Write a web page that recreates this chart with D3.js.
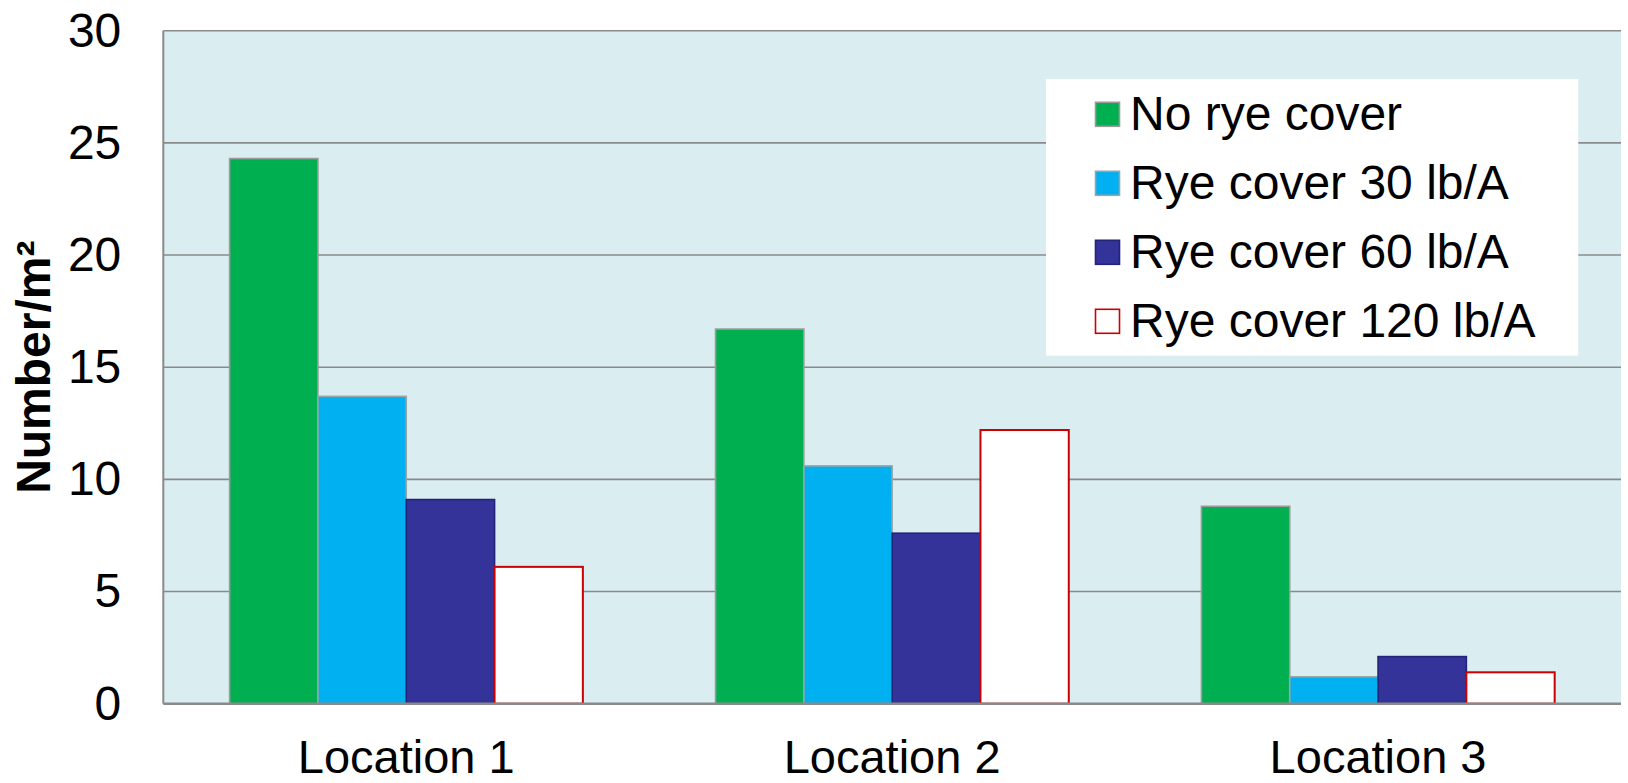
<!DOCTYPE html>
<html>
<head>
<meta charset="utf-8">
<script src="https://cdn.jsdelivr.net/npm/d3@7"></script>
<style>
  html, body { margin: 0; padding: 0; background: #ffffff; }
  svg { display: block; }
  text { font-family: "Liberation Sans", Arial, sans-serif; fill: #000; }
</style>
</head>
<body>
<svg id="chart" width="1628" height="783"></svg>
<script>
// ---- Data ----
const categories = ["Location 1", "Location 2", "Location 3"];
const seriesNames = ["No rye cover", "Rye cover 30 lb/A", "Rye cover 60 lb/A", "Rye cover 120 lb/A"];
const noRye      = [24.3, 16.7, 8.8];
const rye30      = [13.7, 10.6, 1.2];
const rye60      = [9.1, 7.6, 2.1];
const rye120     = [6.1, 12.2, 1.4];
const yTicks     = [0, 5, 10, 15, 20, 25, 30];
const yTitle     = "Number/m²";

// ---- Styles ----
const fills   = ["#00b050", "#00b0f0", "#333399", "#ffffff"];
const strokes = ["#9a9a9a", "#9aa5a8", "#23237a", "#cc0000"];

const seriesValues = [noRye, rye30, rye60, rye120];

const svg = d3.select("#chart");
const pLeft = 163.3, pRight = 1621, pTop = 30.7, pBottom = 703.7;

const x0 = d3.scaleBand().domain(categories).range([pLeft, pRight]).paddingInner(0).paddingOuter(0);
const bw = x0.bandwidth();
const gapFrac = 0.1365;
const x1 = d3.scaleBand().domain(seriesNames).range([bw * gapFrac, bw * (1 - gapFrac)]).padding(0);
const y = d3.scaleLinear().domain([0, 30]).range([pBottom, pTop]);

// plot background
svg.append("rect")
  .attr("x", pLeft).attr("y", pTop)
  .attr("width", pRight - pLeft).attr("height", pBottom - pTop)
  .attr("fill", "#daedf0");

// gridlines
svg.append("g")
  .selectAll("line")
  .data(yTicks.filter(d => d > 0))
  .join("line")
  .attr("x1", pLeft).attr("x2", pRight)
  .attr("y1", d => y(d)).attr("y2", d => y(d))
  .attr("stroke", "#8a8a8a").attr("stroke-width", 1.6);

// y axis with labels
const yAxis = d3.axisLeft(y).tickValues(yTicks).tickSize(0).tickPadding(42).tickFormat(d3.format("d"));
const ga = svg.append("g").attr("transform", `translate(${pLeft},0)`).call(yAxis);
ga.select(".domain").remove();
ga.selectAll("text")
  .style("font-family", '"Liberation Sans", Arial, sans-serif')
  .style("font-size", "48px")
  .attr("fill", "#000");

// bars
const rows = [];
categories.forEach((c, ci) => {
  seriesNames.forEach((s, si) => {
    rows.push({ cat: c, ser: s, si: si, v: seriesValues[si][ci] });
  });
});
svg.append("g")
  .selectAll("rect")
  .data(rows)
  .join("rect")
  .attr("x", d => x0(d.cat) + x1(d.ser))
  .attr("y", d => y(d.v))
  .attr("width", x1.bandwidth())
  .attr("height", d => y(0) - y(d.v))
  .attr("fill", d => fills[d.si])
  .attr("stroke", d => strokes[d.si])
  .attr("stroke-width", d => d.si === 3 ? 2 : 1.6);

// axis lines
svg.append("line")
  .attr("x1", pLeft).attr("x2", pLeft).attr("y1", pTop).attr("y2", pBottom)
  .attr("stroke", "#8a8a8a").attr("stroke-width", 2);
svg.append("line")
  .attr("x1", pLeft).attr("x2", pRight).attr("y1", pBottom).attr("y2", pBottom)
  .attr("stroke", "#8a8a8a").attr("stroke-width", 2.5);

// x axis labels
const xAxis = d3.axisBottom(x0).tickSize(0).tickPadding(0);
const gx = svg.append("g").attr("transform", `translate(0,${pBottom})`).call(xAxis);
gx.select(".domain").remove();
gx.selectAll("text")
  .attr("dy", null)
  .attr("y", 69.5)
  .style("font-family", '"Liberation Sans", Arial, sans-serif')
  .style("font-size", "47px")
  .attr("fill", "#000");

// y title
svg.append("text")
  .attr("transform", `translate(50,${(pTop + pBottom) / 2}) rotate(-90)`)
  .attr("text-anchor", "middle")
  .style("font-size", "48px")
  .style("font-weight", "bold")
  .text(yTitle);

// legend
const lg = svg.append("g");
lg.append("rect")
  .attr("x", 1046).attr("y", 79)
  .attr("width", 1578.3 - 1046).attr("height", 355.7 - 79)
  .attr("fill", "#ffffff");
const items = lg.selectAll("g.item")
  .data(seriesNames)
  .join("g")
  .attr("class", "item")
  .attr("transform", (d, i) => `translate(0,${114.3 + i * 69})`);
items.append("rect")
  .attr("x", 1095.5).attr("y", -12)
  .attr("width", 24).attr("height", 24)
  .attr("fill", (d, i) => fills[i])
  .attr("stroke", (d, i) => strokes[i])
  .attr("stroke-width", 1.6);
items.append("text")
  .attr("x", 1130)
  .attr("y", 15.5)
  .style("font-size", "48px")
  .text(d => d);
</script>
</body>
</html>
